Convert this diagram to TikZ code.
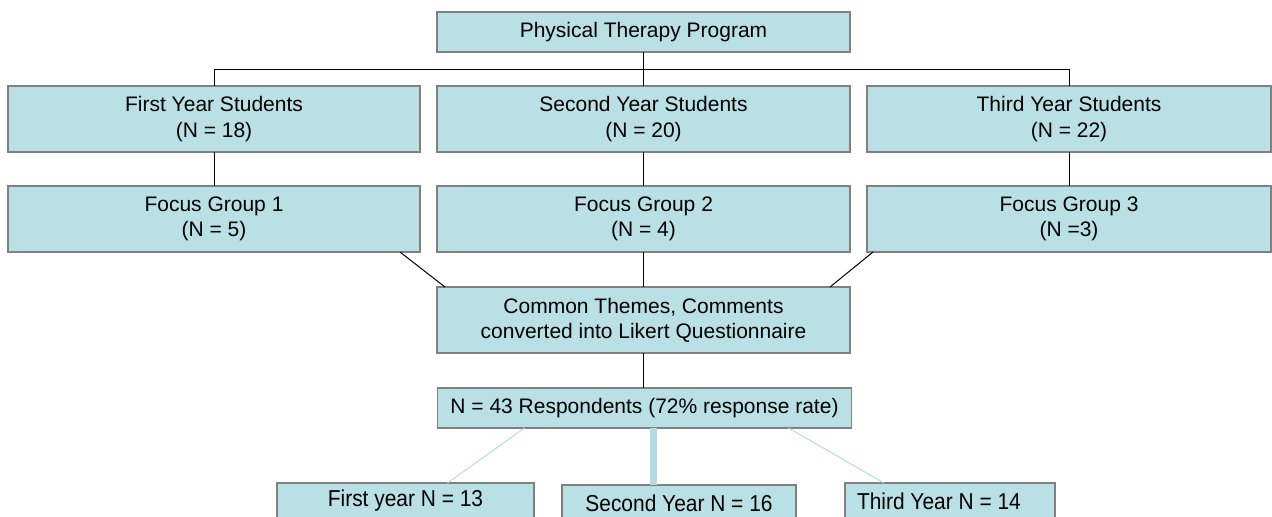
\documentclass[tikz,border=0pt]{standalone}
\usepackage{fontspec}
\setmainfont{Liberation Sans}
\newfontfamily\narrowsf[FakeStretch=0.91]{Liberation Sans}
\usetikzlibrary{positioning}
\definecolor{boxfill}{RGB}{185,224,228}
\definecolor{boxline}{RGB}{128,128,128}
\definecolor{paleline}{RGB}{178,220,225}
\tikzset{
  node distance=17pt and 8.5pt,
  box/.style={
      rectangle,
      draw=boxline,
      fill=boxfill,
      line width=0.6pt,
      inner sep=0pt,
      outer sep=0pt,
      align=center,
      minimum height=33pt,
      minimum width=206pt,
      font=\fontsize{10.5}{12.6}\selectfont
    },
  slim/.style={
      box,
      minimum height=20pt
    },
  tag/.style={
      box,
      minimum height=18pt,
      font=\narrowsf\fontsize{11.5}{13}\selectfont
    },
  lnk/.style={
      line width=0.5pt,
      black
    },
  pale/.style={
      line width=0.5pt,
      paleline
    }
}
\begin{document}
\begin{tikzpicture}[x=0.5pt, y=-0.5pt]
  \useasboundingbox (0,0) rectangle (1272,516);
  \clip (0,0) rectangle (1272,516);
  \node[slim, minimum width=206.5pt] (prog) at (643.5,32) {Physical Therapy Program};
  \node[box] (yr1) at (214,119) {First Year Students\\(N = 18)};
  \node[box, minimum width=206.5pt] (yr2) at (643.5,119) {Second Year Students\\(N = 20)};
  \node[box, minimum width=202pt] (yr3) at (1069,119) {Third Year Students\\(N = 22)};
  \node[box, below=of yr1] (fg1) {Focus Group 1\\(N = 5)};
  \node[box, minimum width=206.5pt, below=of yr2] (fg2) {Focus Group 2\\(N = 4)};
  \node[box, minimum width=202pt, below=of yr3] (fg3) {Focus Group 3\\(N =3)};
  \node[box, minimum width=206.5pt, below=17.5pt of fg2] (common) {Common Themes, Comments\\converted into Likert Questionnaire};
  \node[slim, minimum width=207pt] (resp) at (644.5,408) {N = 43 Respondents (72\% response rate)};
  \node[tag, minimum width=128.5pt] (first) at (405.5,501) {First year N = 13};
  \node[tag, minimum width=117pt] (second) at (679,503) {Second Year N = 16};
  \node[tag, minimum width=105pt] (third) at (950,501) {\makebox[93pt][l]{Third Year N = 14}};
  \draw[lnk] (prog.south) -- ++(0,17) -| (yr1.north);
  \draw[lnk] (prog.south) -- ++(0,17) -| (yr3.north);
  \draw[lnk] (prog) -- (yr2);
  \draw[lnk] (yr1) -- (fg1);
  \draw[lnk] (yr2) -- (fg2);
  \draw[lnk] (yr3) -- (fg3);
  \draw[lnk] ([xshift=-10pt]fg1.south east) -- ([xshift=4pt]common.north west);
  \draw[lnk] (fg2) -- (common);
  \draw[lnk] ([xshift=3pt]fg3.south west) -- ([xshift=-10pt]common.north east);
  \draw[lnk] (common.south) -- (common.south |- resp.north);
  \draw[pale] ([xshift=43.5pt]resp.south west) -- ([xshift=21pt]first.north);
  \draw[pale, line width=3.5pt] ([xshift=4.5pt]resp.south) -- ([xshift=4.5pt]resp.south |- second.north);
  \draw[pale] ([xshift=-31.5pt]resp.south east) -- ([xshift=19.5pt]third.north west);
\end{tikzpicture}
\end{document}
